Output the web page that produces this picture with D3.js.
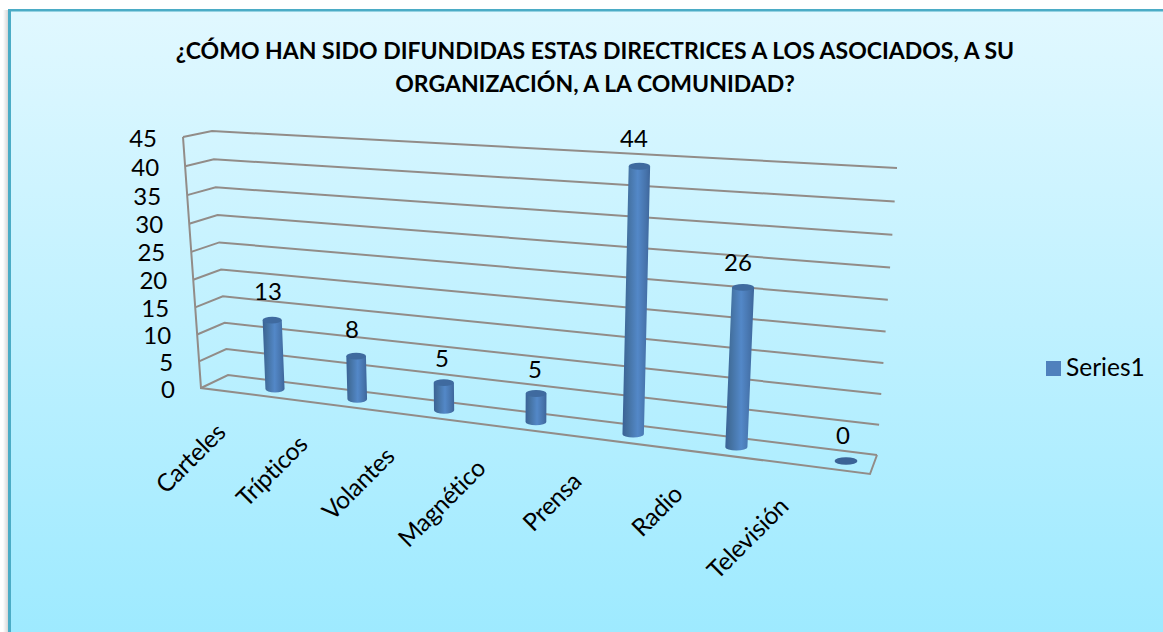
<!DOCTYPE html>
<html><head><meta charset="utf-8">
<script src="https://cdn.jsdelivr.net/npm/d3@7/dist/d3.min.js"></script>
<style>html,body{margin:0;padding:0;background:#fff;overflow:hidden}svg{display:block}text{font-family:Lato,"Open Sans",sans-serif;fill:#000}</style>
</head><body><svg id="c" width="1163" height="632"></svg>
<script>
const categories=["Carteles","Trípticos","Volantes","Magnético","Prensa","Radio","Televisión"];
const values=[13,8,5,5,44,26,0];
const valueTicks=[0,5,10,15,20,25,30,35,40,45];
const seriesName="Series1";
const titleLines=["¿CÓMO HAN SIDO DIFUNDIDAS ESTAS DIRECTRICES A LOS ASOCIADOS, A SU","ORGANIZACIÓN, A LA COMUNIDAD?"];
// end-of-text anchors for the slanted category labels
const labelAnchors=[[227,434],[309,446],[396,458],[487,470],[583,483],[684,496],[790,508]];
const dataLabelPos=[[268,300],[352,338],[442,367],[535,378],[634,147],[738,271],[843,444]];

// perspective map from the unit square onto a quad (p00,p10,p11,p01)
function homography(p00,p10,p11,p01){
  const [x0,y0]=p00,[x1,y1]=p10,[x2,y2]=p11,[x3,y3]=p01;
  const dx1=x1-x2,dx2=x3-x2,dx3=x0-x1+x2-x3,dy1=y1-y2,dy2=y3-y2,dy3=y0-y1+y2-y3;
  const den=dx1*dy2-dx2*dy1;
  const g=(dx3*dy2-dx2*dy3)/den,h=(dx1*dy3-dx3*dy1)/den;
  const a=x1-x0+g*x1,b=x3-x0+h*x3,d=y1-y0+g*y1,e=y3-y0+h*y3;
  return (s,t)=>{const w=g*s+h*t+1;return [(a*s+b*t+x0)/w,(d*s+e*t+y0)/w];};
}
const FL=[201,388],BL=[228,375],BR=[877,455],FR=[870,474],TL=[212,131],TR=[897,168],FT=[183,137];
const wall=homography(BL,BR,TR,TL);
const side=homography(FL,BL,TL,FT);
// plane through the bar centres
const barPlane=homography([275,389],[846,461],[864,170],[265,143]);

const y=d3.scaleLinear().domain([0,45]).range([0,1]);
const x=d3.scaleLinear().domain([0,categories.length-1]).range([0,1]);

const svg=d3.select("#c");
const defs=svg.append("defs");
const bg=defs.append("linearGradient").attr("id","bg").attr("x1",0).attr("y1",0).attr("x2",0).attr("y2",1);
bg.append("stop").attr("offset",0).attr("stop-color","#e1f8ff");
bg.append("stop").attr("offset",1).attr("stop-color","#9eeaff");
const bar=defs.append("linearGradient").attr("id","bar").attr("x1",0).attr("y1",0).attr("x2",1).attr("y2",0);
[[0,"#3a6296"],[.18,"#43709f"],[.55,"#5388c8"],[.85,"#4673ab"],[1,"#3d659a"]].forEach(([o,c])=>bar.append("stop").attr("offset",o).attr("stop-color",c));
const sh=defs.append("linearGradient").attr("id","sh").attr("x1",0).attr("y1",0).attr("x2",1).attr("y2",0);
sh.append("stop").attr("offset",0).attr("stop-color","#fff");
sh.append("stop").attr("offset",1).attr("stop-color","#cfcfcf");

svg.append("rect").attr("x",3).attr("y",10).attr("width",6).attr("height",622).attr("fill","url(#sh)");
svg.append("rect").attr("x",9).attr("y",10).attr("width",1154).attr("height",622).attr("fill","url(#bg)");
svg.append("rect").attr("x",8).attr("y",9).attr("width",1155).attr("height",2.5).attr("fill","#4bacc6");
svg.append("rect").attr("x",8).attr("y",9).attr("width",3).attr("height",623).attr("fill","#4bacc6");

svg.append("g").selectAll("text").data(titleLines).join("text")
  .attr("x",595).attr("y",(d,i)=>58.5+i*33.5).attr("text-anchor","middle")
  .attr("font-size",23).attr("font-weight",700).text(d=>d);

const line=d3.line();
const gridColor="#928c88";
const grid=svg.append("g").attr("fill","none").attr("stroke",gridColor).attr("stroke-width",2);
grid.selectAll("path.g").data(valueTicks).join("path").attr("class","g")
  .attr("d",v=>line([side(0,y(v)),wall(0,y(v)),wall(1,y(v))]));
grid.append("path").attr("d",line([side(0,y(45)),side(0,y(0)),FR,wall(1,y(0))]));

svg.append("g").selectAll("text").data(valueTicks).join("text")
  .attr("x",v=>side(0,y(v))[0]-26).attr("y",v=>side(0,y(v))[1]+9.5)
  .attr("text-anchor","end").attr("font-size",24).text(v=>v);

const ry=3.4;
const bars=svg.append("g");
categories.forEach((c,i)=>{
  const v=values[i];
  const b=barPlane(x(i),y(0)),t=barPlane(x(i),y(v));
  const spacing=barPlane(x(i)+x(0.5),y(0))[0]-barPlane(x(i)-x(0.5),y(0))[0];
  const rx=5+0.057*spacing;
  if(v===0){
    bars.append("ellipse").attr("cx",b[0]).attr("cy",b[1]).attr("rx",rx).attr("ry",ry+.4).attr("fill","#3b6396");
    return;
  }
  bars.append("path").attr("fill","url(#bar)")
    .attr("d",`M${t[0]-rx},${t[1]}L${b[0]-rx},${b[1]}A${rx},${ry} 0 0 0 ${b[0]+rx},${b[1]}L${t[0]+rx},${t[1]}Z`);
  bars.append("ellipse").attr("cx",t[0]).attr("cy",t[1]).attr("rx",rx).attr("ry",ry).attr("fill","#3f6a9f");
});

svg.append("g").selectAll("text").data(values).join("text")
  .attr("x",(d,i)=>dataLabelPos[i][0]).attr("y",(d,i)=>dataLabelPos[i][1])
  .attr("text-anchor","middle").attr("font-size",24).text(d=>d);

svg.append("g").selectAll("text").data(categories).join("text")
  .attr("transform",(d,i)=>`translate(${labelAnchors[i][0]},${labelAnchors[i][1]}) rotate(-45)`)
  .attr("text-anchor","end").attr("font-size",24.5).attr("letter-spacing","-0.3").text(d=>d);

svg.append("rect").attr("x",1046).attr("y",361).attr("width",15).attr("height",15).attr("fill","#4f81bd");
svg.append("text").attr("x",1066).attr("y",376).attr("font-size",24.5).text(seriesName);
</script></body></html>
